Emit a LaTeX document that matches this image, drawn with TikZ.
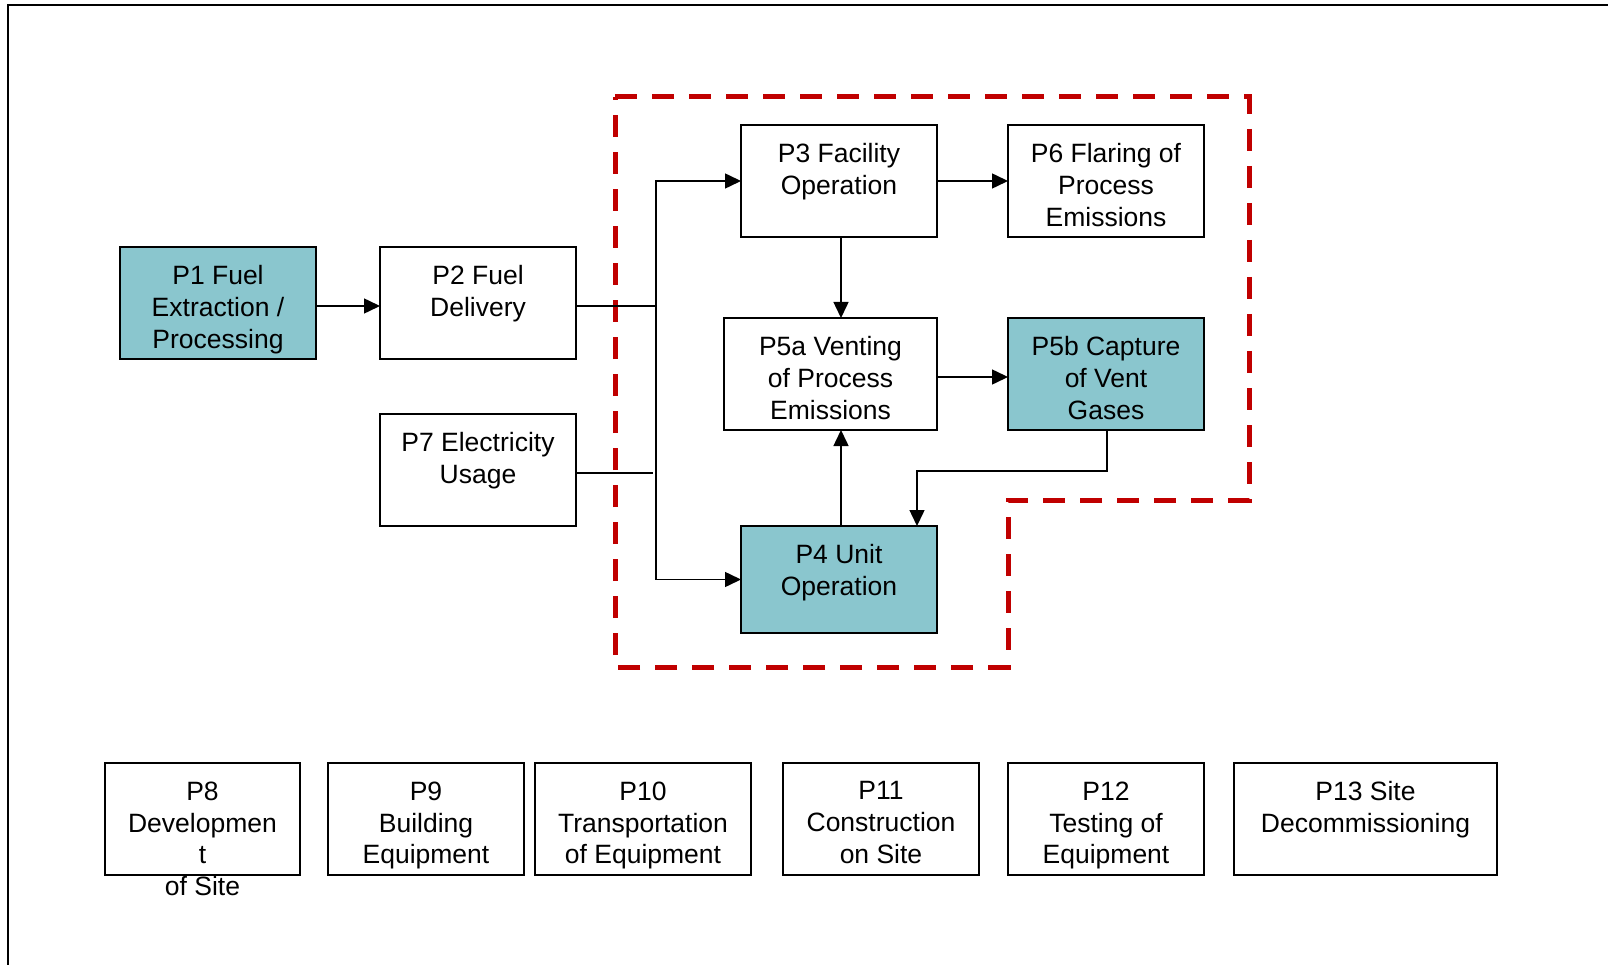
\documentclass[tikz,border=0pt]{standalone}
\usepackage{fontspec}
\setmainfont{Liberation Sans}
\usetikzlibrary{arrows.meta}
\definecolor{tealfill}{RGB}{138,198,206}
\definecolor{dashred}{RGB}{192,0,0}
\newcommand\procbox[6]{%
  \node[#5, minimum width=#3, minimum height=#4] (#1) at #2 {};
  \node[txt] (#1t) at ([yshift=-18.5pt]#1.north) {#6};}
\begin{document}
\begin{tikzpicture}[x=1pt,y=-1pt,
  plain/.style={draw=black, line width=2pt, fill=white, inner sep=0pt, outer sep=0pt},
  shaded/.style={plain, fill=tealfill},
  txt/.style={anchor=north, inner sep=0pt, align=center,
    font=\fontsize{26.5}{31.8}\selectfont},
  conn/.style={draw=black, line width=1.5pt},
  arr/.style={conn, -{Triangle[length=16pt,width=15pt]}},
  region/.style={draw=dashred, line width=5pt, dash pattern=on 22pt off 15pt, line join=miter}]
\useasboundingbox (0,0) rectangle (1608,965);
% outer frame
\draw[line width=2.5pt] (8,965) -- (8,5) -- (1608,5);
% dashed region
\draw[region] (615,97) -- (1249,97) -- (1249,500) -- (1008,500) -- (1008,667) -- (615,667) -- cycle;
% process boxes
\procbox{p1}{(218,303)}{196pt}{112pt}{shaded}{P1 Fuel\\Extraction /\\Processing}
\procbox{p2}{(478,303)}{196pt}{112pt}{plain}{P2 Fuel\\Delivery}
\procbox{p7}{(478,470)}{196pt}{112pt}{plain}{P7 Electricity\\Usage}
\procbox{p3}{(839,181)}{196pt}{112pt}{plain}{P3 Facility\\Operation}
\procbox{p6}{(1106,181)}{196pt}{112pt}{plain}{P6 Flaring of\\Process\\Emissions}
\procbox{p5a}{(830.5,374)}{213pt}{112pt}{plain}{P5a Venting\\of Process\\Emissions}
\procbox{p5b}{(1106,374)}{196pt}{112pt}{shaded}{P5b Capture\\of Vent\\Gases}
\procbox{p4}{(839,579.5)}{196pt}{107pt}{shaded}{P4 Unit\\Operation}
% bottom row
\procbox{p8}{(202.5,819)}{195pt}{112pt}{plain}{P8\\Developmen\\t\\of Site}
\procbox{p9}{(426,819)}{196pt}{112pt}{plain}{P9\\Building\\Equipment}
\procbox{p10}{(643,819)}{216pt}{112pt}{plain}{P10\\Transportation\\of Equipment}
\procbox{p11}{(881,819)}{196pt}{112pt}{plain}{P11\\Construction\\on Site}
\procbox{p12}{(1106,819)}{196pt}{112pt}{plain}{P12\\Testing of\\Equipment}
\procbox{p13}{(1365.5,819)}{263pt}{112pt}{plain}{P13 Site\\Decommissioning}
% connectors
\coordinate (j1) at (656,306);
\coordinate (j2) at (653,473);
\draw[arr] ([yshift=-3pt]p1.east) -- ([yshift=-3pt]p2.west);
\draw[conn] ([yshift=-3pt]p2.east) -- (j1);
\draw[conn] ([yshift=-3pt]p7.east) -- (j2);
\draw[arr] (j1) |- (p3.west);
\draw[arr] (j1) |- (p4.west);
\draw[arr] (p3.east) -- (p6.west);
\draw[arr] ([xshift=2pt]p3.south) -- ([xshift=2pt]p3.south |- p5a.north);
\draw[arr] ([yshift=-3pt]p5a.east) -- ([yshift=-3pt]p5b.west);
\draw[arr] ([xshift=2pt]p4.north) -- ([xshift=2pt]p4.north |- p5a.south);
\draw[arr] ([xshift=1pt]p5b.south) -- ++(0,41) -| ([xshift=78pt]p4.north);
\end{tikzpicture}
\end{document}
